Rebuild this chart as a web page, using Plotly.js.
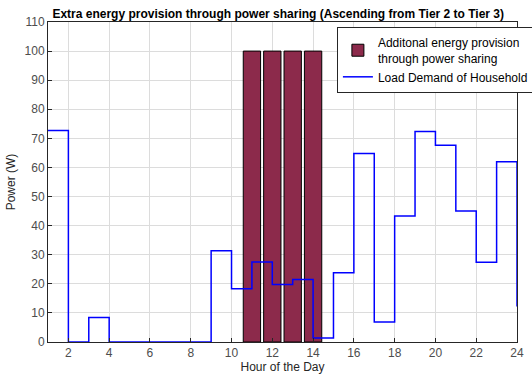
<!DOCTYPE html>
<html>
<head>
<meta charset="utf-8">
<script src="https://cdn.plot.ly/plotly-3.0.1.min.js"></script>
<style>html,body{margin:0;padding:0;background:#fff;}#chart{width:532px;height:380px;}</style>
</head>
<body>
<div id="chart"></div>
<script>
const hours = [1,2,3,4,5,6,7,8,9,10,11,12,13,14,15,16,17,18,19,20,21,22,23,24];
const loadDemand = [72.7,0,8.4,0,0,0,0,0,31.4,18.3,27.5,19.8,21.5,1.4,23.8,64.8,6.9,43.3,72.4,67.6,45,27.4,62,12.2];
const shareHours = [11,12,13,14];
const shareValues = [100,100,100,100];
const xTicks = [2,4,6,8,10,12,14,16,18,20,22,24];
const yTicks = [0,10,20,30,40,50,60,70,80,90,100,110];

const traces = [
  {
    type: 'bar', x: shareHours, y: shareValues, width: 0.85,
    name: 'Additonal energy provision<br>through power sharing',
    marker: {color: '#8c2a4b', line: {color: '#000', width: 1}}
  },
  {
    type: 'scatter', mode: 'lines', x: hours, y: loadDemand,
    line: {shape: 'hv', color: '#0000ff', width: 1.5},
    name: 'Load Demand of Household'
  }
];

const axisCommon = {
  showline: true, linecolor: '#262626', linewidth: 1, mirror: true,
  ticks: 'inside', ticklen: 4, tickcolor: '#262626',
  showgrid: true, gridcolor: '#dcdcdc', gridwidth: 1,
  zeroline: false,
  tickfont: {family: 'Liberation Sans, Arial, sans-serif', size: 12, color: '#4d4d4d'}
};

const layout = {
  width: 532, height: 380,
  margin: {l: 48, r: 15, t: 22, b: 38, autoexpand: false},
  paper_bgcolor: '#fff', plot_bgcolor: '#fff',
  font: {family: 'Liberation Sans, Arial, sans-serif', size: 12, color: '#262626'},
  title: {
    text: '<b>Extra energy provision through power sharing (Ascending from Tier 2 to Tier 3)</b>',
    font: {size: 12, color: '#000'}, x: 0.523, xanchor: 'center', y: 0.963, yanchor: 'middle'
  },
  xaxis: Object.assign({}, axisCommon, {
    range: [1, 24], tickvals: xTicks,
    title: {text: 'Hour of the Day', font: {size: 12, color: '#262626'}, standoff: 3}
  }),
  yaxis: Object.assign({}, axisCommon, {
    range: [0, 110], tickvals: yTicks,
    title: {text: 'Power (W)', font: {size: 12, color: '#262626'}, standoff: 6}
  }),
  showlegend: true,
  legend: {
    x: 0.616, xanchor: 'left', y: 0.984, yanchor: 'top',
    bgcolor: '#fff', bordercolor: '#262626', borderwidth: 1,
    font: {size: 12, color: '#000'}, tracegroupgap: 2, itemwidth: 30
  },
  bargap: 0
};

Plotly.newPlot('chart', traces, layout, {displayModeBar: false, staticPlot: true});
</script>
</body>
</html>
